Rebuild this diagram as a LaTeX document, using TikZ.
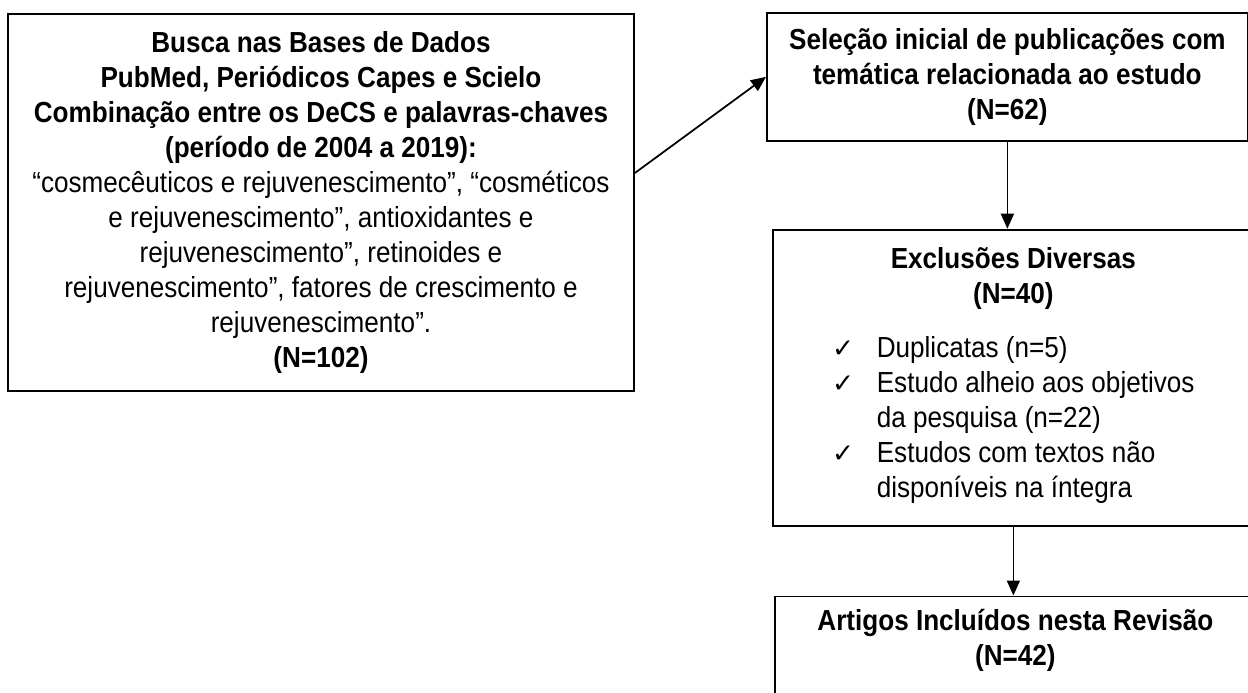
\documentclass[tikz,border=0pt]{standalone}
\usepackage{fontspec}
\setmainfont{Liberation Sans}[FakeStretch=0.9]
\newfontfamily\checkfont{DejaVu Sans}
\usetikzlibrary{arrows.meta, positioning}

\tikzset{
  stage/.style={draw, rectangle, align=center, inner sep=0pt, line width=1pt,
    font=\fontsize{16.5}{19.9}\selectfont},
}
\newcommand{\chk}{{\checkfont\fontsize{15}{15}\selectfont ✓}}

\begin{document}
\begin{tikzpicture}[>={Triangle[length=0.3cm,width=0.26cm]}, line width=1pt]
  \useasboundingbox (0,0) rectangle (24.96,13.86);
  \clip (0,0) rectangle (24.96,13.86);

  % Nodes
  \node[stage, minimum width=12.52cm, minimum height=7.54cm] (search) at (6.42,9.81) {%
    \textbf{Busca nas Bases de Dados}\\
    \textbf{PubMed, Periódicos Capes e Scielo}\\
    \textbf{Combinação entre os DeCS e palavras-chaves}\\
    \textbf{(período de 2004 a 2019):}\\
    “cosmecêuticos e rejuvenescimento”, “cosméticos\\
    e rejuvenescimento”, antioxidantes e\\
    rejuvenescimento”, retinoides e\\
    rejuvenescimento”, fatores de crescimento e\\
    rejuvenescimento”.\\
    \textbf{(N=102)}};
  \node[stage, anchor=north west, minimum width=9.62cm, minimum height=2.56cm] (select) at (15.32,13.62) {%
    \textbf{Seleção inicial de publicações com}\\
    \textbf{temática relacionada ao estudo}\\
    \textbf{(N=62)}};
  \node[stage, below=1.74cm of select, xshift=0.12cm, minimum width=9.62cm, minimum height=5.92cm] (exclude) {%
    \textbf{Exclusões Diversas}\\
    \textbf{(N=40)}\\[0.45cm]
    \begin{tabular}{@{}l@{\hspace{0.45cm}}l@{}}
      \chk & Duplicatas (n=5)\\
      \chk & Estudo alheio aos objetivos\\
           & da pesquisa (n=22)\\
      \chk & Estudos com textos não\\
           & disponíveis na íntegra
    \end{tabular}\hspace{0.1cm}};
  \node[stage, below=1.38cm of exclude, xshift=0.04cm, minimum width=9.62cm, minimum height=2.56cm] (include) {%
    \textbf{Artigos Incluídos nesta Revisão}\\
    \textbf{(N=42)}\\
    \strut};

  % Connections
  \draw[->] ([yshift=0.59cm]search.east) -- (select.west);
  \draw[->] (select.south) -- (select.south |- exclude.north);
  \draw[->] (exclude.south) -- (exclude.south |- include.north);
\end{tikzpicture}
\end{document}
